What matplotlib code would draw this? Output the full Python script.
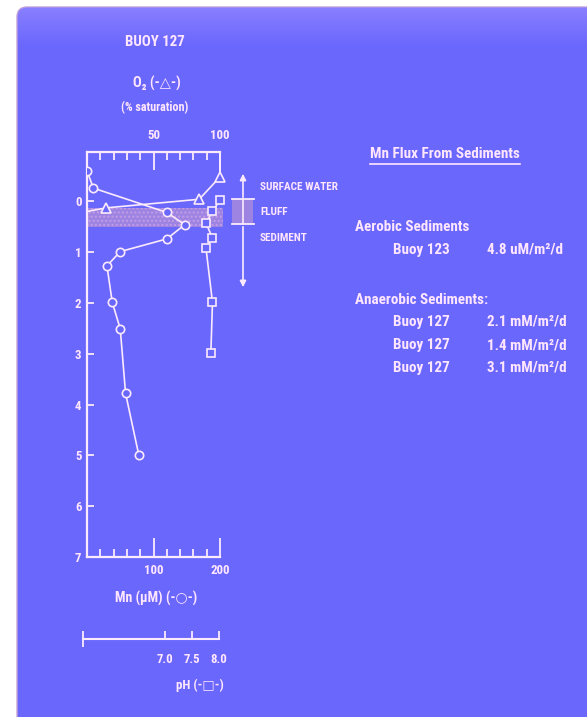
import numpy as np
import matplotlib
matplotlib.use("Agg")
from matplotlib import pyplot as plt
from matplotlib import font_manager
from matplotlib.patches import FancyBboxPatch, Rectangle
from matplotlib.lines import Line2D

#-----------------------Data-----------------------#

# Mn profile (depth in cm, Mn in uM)
mn_depth = [-0.6, -0.26, 0.22, 0.46, 0.74, 0.99, 1.27, 1.99, 2.51, 3.78, 5.0]
mn_conc = [0, 9.5, 120, 147, 120, 50, 30, 38, 50, 58, 78]

# O2 profile (% saturation)
o2_depth = [-0.48, -0.04, 0.13, 0.2]
o2_sat = [100, 84.4, 14.3, 0]

# pH profile
ph_depth = [-0.03, 0.2, 0.43, 0.72, 0.92, 1.99, 2.98]
ph_val = [8.02, 7.88, 7.76, 7.88, 7.76, 7.88, 7.85]

fluff_layer = (0.13, 0.5)
depth_ticks = [0, 1, 2, 3, 4, 5, 6, 7]

flux_sites = ["Buoy 123", "Buoy 127", "Buoy 127", "Buoy 127"]
flux_values = ["4.8 uM/m²/d", "2.1 mM/m²/d", "1.4 mM/m²/d", "3.1 mM/m²/d"]

#-----------------------Style-----------------------#

W, H = 587, 717
BLUE = "#6a67fd"
LINE = "#fbeafc"
TEXT = "#ffe6ff"
SHADE = "#a88ade"

# pick a narrow font if one is installed
fonts = font_manager.fontManager.ttflist
names = {f.name for f in fonts}
FONT, STRETCH = "DejaVu Sans", "normal"
for cand in ["Roboto Condensed", "Liberation Sans Narrow", "Open Sans Condensed",
             "Noto Sans Condensed", "DejaVu Sans Condensed"]:
    if cand in names:
        FONT = cand
        break
else:
    for f in fonts:
        if f.stretch in ("condensed", "semi-condensed", "extra-condensed") and \
                f.name in ("Noto Sans", "Open Sans", "Roboto", "DejaVu Sans", "Liberation Sans"):
            FONT, STRETCH = f.name, f.stretch
            break

plt.rcParams['font.family'] = [FONT, 'DejaVu Sans']
plt.rcParams['font.weight'] = 'bold'
plt.rcParams['font.stretch'] = STRETCH


def px(x, y):
    return x / W, 1 - y / H


fig = plt.figure(figsize=(W / 100, H / 100), dpi=100, facecolor="white")
renderer = fig.canvas.get_renderer()


def fit_size(s, width, size0=10):
    t = fig.text(0, 0, s, fontsize=size0)
    w = t.get_window_extent(renderer).width
    t.remove()
    return size0 * width / w


def label(x, y, s, size, ha="center"):
    fig.text(*px(x, y), s, color=TEXT, fontsize=size, ha=ha, va="center")


TICK_FS = min(fit_size("100", 17) * 1.15, 10)

# slide background
bg = fig.add_axes([0, 0, 1, 1])
bg.set_xlim(0, W)
bg.set_ylim(H, 0)
bg.axis("off")
slide = FancyBboxPatch((17, 7), 620, 740, boxstyle="round,pad=0,rounding_size=10",
                       fc=BLUE, ec="#c8a4d4", lw=1.0)
bg.add_patch(slide)
grad = np.zeros((40, 2, 4))
grad[..., 0] = 0.62
grad[..., 1] = 0.56
grad[..., 2] = 1.0
grad[..., 3] = np.linspace(0.6, 0, 40)[:, None]
im = bg.imshow(grad, extent=(17, 600, 47, 7), aspect="auto", zorder=1)
im.set_clip_path(slide)

#-----------------------Main profile axes-----------------------#

ax = fig.add_axes([87 / W, 1 - 557 / H, 133 / W, 405 / H])
ax.patch.set_alpha(0)
ax.set_xlim(0, 200)
ax.set_ylim(7, -0.97)

ax.fill_betweenx(fluff_layer, 0, 205, color=SHADE, alpha=0.85, lw=0,
                 hatch="....", edgecolor="#c9a0e6", clip_on=False, zorder=1)

ax.plot(mn_conc, mn_depth, "-o", color=LINE, mfc=BLUE, mec=LINE, ms=6, mew=1.2,
        lw=1.2, zorder=3)

for s in ["right", "top"]:
    ax.spines[s].set_visible(False)
for s in ["left", "bottom"]:
    ax.spines[s].set_color(LINE)
    ax.spines[s].set_linewidth(1.6)

ax.set_xticks([100, 200])
ax.set_xticks([20, 40, 60, 80, 120, 140, 160, 180], minor=True)
ax.tick_params(axis="x", which="major", direction="in", length=14, width=1.3,
               colors=LINE, labelcolor=TEXT, labelsize=TICK_FS, pad=5)
ax.tick_params(axis="x", which="minor", direction="in", length=6, width=1.3,
               colors=LINE)
ax.set_yticks(depth_ticks)
ax.tick_params(axis="y", direction="in", length=5, width=1.3, colors=LINE,
               labelcolor=TEXT, labelsize=TICK_FS, pad=4)

# O2 on top axis
ax2 = ax.twiny()
ax2.patch.set_alpha(0)
ax2.set_xlim(0, 100)
ax2.plot(o2_sat, o2_depth, "-^", color=LINE, mfc=BLUE, mec=LINE, ms=6.5, mew=1.2,
         lw=1.2, markevery=[0, 1, 2], zorder=3, clip_on=False)
for s in ["left", "bottom"]:
    ax2.spines[s].set_visible(False)
ax2.spines["top"].set_color(LINE)
ax2.spines["top"].set_linewidth(1.6)
ax2.spines["right"].set_color(LINE)
ax2.spines["right"].set_linewidth(1.4)
ax2.spines["right"].set_bounds(-0.97, o2_depth[0])
ax2.set_xticks([50, 100])
ax2.set_xticks([10, 20, 30, 40, 60, 70, 80, 90], minor=True)
ax2.tick_params(axis="x", which="major", direction="in", length=13, width=1.3,
                colors=LINE, labelcolor=TEXT, labelsize=TICK_FS, pad=7)
ax2.tick_params(axis="x", which="minor", direction="in", length=6, width=1.3,
                colors=LINE)

# pH squares, same depth axis
ax3 = ax.twiny()
ax3.patch.set_alpha(0)
ax3.set_xlim(5.574, 8.018)
ax3.plot(ph_val, ph_depth, "-s", color=LINE, mfc=BLUE, mec=LINE, ms=5.5, mew=1.2,
         lw=1.2, zorder=3, clip_on=False)
ax3.axis("off")

#-----------------------pH scale-----------------------#

axp = fig.add_axes([83 / W, 1 - 639 / H, 136 / W, 10 / H])
axp.patch.set_alpha(0)
axp.set_xlim(5.5, 8.0)
axp.set_yticks([])
for s in ["left", "right", "top"]:
    axp.spines[s].set_visible(False)
axp.spines["bottom"].set_color(LINE)
axp.spines["bottom"].set_linewidth(1.5)
axp.set_xticks([7.0, 7.5, 8.0])
axp.set_xticklabels(["7.0", "7.5", "8.0"])
axp.set_xticks([5.5, 8.0], minor=True)
axp.tick_params(axis="x", which="major", direction="in", length=6, width=1.3,
                colors=LINE, labelcolor=TEXT, labelsize=TICK_FS, pad=10)
axp.tick_params(axis="x", which="minor", direction="inout", length=12, width=1.3,
                colors=LINE)

#-----------------------Labels-----------------------#

label(155, 42, "BUOY 127", fit_size("BUOY 127", 60))
label(157, 83, "O₂ (-△-)", fit_size("O₂ (-△-)", 48))
label(155, 108, "(% saturation)", fit_size("(% saturation)", 68))
label(156, 598, "Mn (μM) (-○-)", fit_size("Mn (μM) (-○-)", 82))
label(200, 685, "pH (-□-)", fit_size("pH (-□-)", 48))

# layer annotation
bg.annotate("", xy=(243, 171), xytext=(243, 200),
            arrowprops=dict(arrowstyle="-|>", color=LINE, lw=1.2, mutation_scale=9))
bg.annotate("", xy=(243, 290), xytext=(243, 224),
            arrowprops=dict(arrowstyle="-|>", color=LINE, lw=1.2, mutation_scale=9))
bg.add_patch(Rectangle((232, 199), 21, 25, fc=SHADE, ec="none", hatch="....",
                       alpha=0.85))
bg.plot([232, 254], [199, 199], color=LINE, lw=1.3)
bg.plot([232, 254], [224, 224], color=LINE, lw=1.3)
bg.plot([243, 243], [199, 224], color=LINE, lw=1.2)
ann_fs = fit_size("SURFACE WATER", 78)
label(260, 187, "SURFACE WATER", ann_fs, ha="left")
label(260, 212, "FLUFF", ann_fs, ha="left")
label(260, 238, "SEDIMENT", ann_fs, ha="left")

# flux table
tab_fs = fit_size("Mn Flux From Sediments", 150)
title = fig.text(*px(370, 154), "Mn Flux From Sediments", color=TEXT, fontsize=tab_fs,
                 ha="left", va="center")
tw = title.get_window_extent(renderer).width
fig.add_artist(Line2D([370 / W, (370 + tw) / W], [1 - 164 / H, 1 - 164 / H],
                      color=TEXT, lw=1.2))
label(355, 227, "Aerobic Sediments", tab_fs, ha="left")
label(355, 300, "Anaerobic Sediments:", tab_fs, ha="left")
for site, val, yy in zip(flux_sites, flux_values, [250, 322, 345, 368]):
    label(393, yy, site, tab_fs, ha="left")
    label(487, yy, val, tab_fs, ha="left")

fig.savefig("out.png", dpi=100, facecolor="white")
